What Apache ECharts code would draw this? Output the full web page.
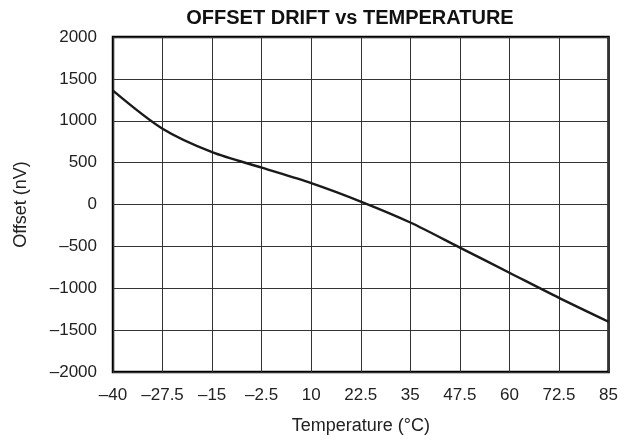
<!DOCTYPE html>
<html>
<head>
<meta charset="utf-8">
<script src="https://cdn.jsdelivr.net/npm/echarts@6/dist/echarts.min.js"></script>
<style>html,body{margin:0;padding:0;background:#fff}#c{width:621px;height:440px}</style>
</head>
<body>
<div id="c"></div>
<script>
var titleText = 'OFFSET DRIFT vs TEMPERATURE';
var xName = 'Temperature (°C)';
var yName = 'Offset (nV)';
var temps = [-40, -27.5, -15, -2.5, 10, 22.5, 35, 47.5, 60, 72.5, 85];
var offsets = [1360, 905, 625, 440, 255, 35, -215, -515, -815, -1115, -1400];
var xMin = -40, xMax = 85, xStep = 12.5;
var yMin = -2000, yMax = 2000, yStep = 500;

function fmt(v) { return String(v).replace('-', '\u2013'); }
var pts = temps.map(function (t, i) { return [t, offsets[i]]; });
var font = 'Liberation Sans, Arial, sans-serif';
var chart = echarts.init(document.getElementById('c'), null, {renderer: 'canvas'});
chart.setOption({
  animation: false,
  backgroundColor: '#fff',
  title: {
    text: titleText, left: 345, top: 3, textAlign: 'center',
    textStyle: {fontFamily: font, fontSize: 20, fontWeight: 'bold', color: '#111'}
  },
  grid: {left: 113, right: 12, top: 37, bottom: 67, show: true, borderColor: '#000', borderWidth: 2.5},
  xAxis: {
    type: 'value', min: xMin, max: xMax, interval: xStep,
    name: xName, nameLocation: 'middle', nameGap: 45,
    nameTextStyle: {fontFamily: font, fontSize: 18, color: '#222'},
    axisLine: {show: false}, axisTick: {show: false},
    axisLabel: {formatter: fmt, margin: 15, fontFamily: font, fontSize: 17, color: '#222'},
    splitLine: {show: true, lineStyle: {color: '#333', width: 1}}
  },
  yAxis: {
    type: 'value', min: yMin, max: yMax, interval: yStep,
    name: yName, nameLocation: 'middle', nameGap: 83,
    nameTextStyle: {fontFamily: font, fontSize: 18, color: '#222'},
    axisLine: {show: false}, axisTick: {show: false},
    axisLabel: {formatter: fmt, margin: 16, fontFamily: font, fontSize: 17, color: '#222'},
    splitLine: {show: true, lineStyle: {color: '#333', width: 1}}
  },
  series: [{
    type: 'line', data: pts, smooth: 0.3, showSymbol: false,
    lineStyle: {color: '#1a1a1a', width: 2.4}
  }]
});
</script>
</body>
</html>
